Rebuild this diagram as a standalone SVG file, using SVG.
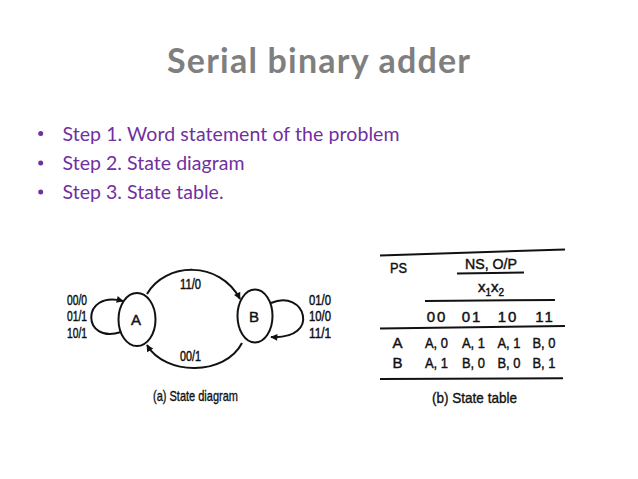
<svg xmlns="http://www.w3.org/2000/svg" width="638" height="479" viewBox="0 0 638 479">
<style>
.title{font-family:Lato,"Open Sans","Liberation Sans",sans-serif;font-weight:bold;font-size:34px;fill:#7f7f7f}
.bul{font-family:Lato,"Open Sans","Liberation Sans",sans-serif;font-size:19.5px;fill:#7030a0}
.dot{fill:#7030a0}
.lbl{font-family:"Liberation Sans",Arial,sans-serif;font-size:15px;fill:#111;stroke:#111;stroke-width:0.5}
.tb{font-family:"Liberation Sans",Arial,sans-serif;font-size:15px;fill:#111;stroke:#111;stroke-width:0.45}
.cap{font-family:"Liberation Sans",Arial,sans-serif;font-size:15px;fill:#111;stroke:#111;stroke-width:0.35}
.node{fill:#fff;stroke:#111;stroke-width:2}
.edge{fill:none;stroke:#111;stroke-width:2}
.rule{fill:none;stroke:#111;stroke-width:2}
</style>
<defs>
<marker id="ah" viewBox="0 0 10 10" refX="9" refY="5" markerWidth="8" markerHeight="7" markerUnits="userSpaceOnUse" orient="auto">
<path d="M0,0 L10,5 L0,10 Z" fill="#111"/>
</marker>
</defs>
<rect width="638" height="479" fill="#fff"/>
<text class="title" x="167" y="72.5" textLength="303">Serial binary adder</text>
<g id="bullets">
<circle class="dot" cx="40.7" cy="133.5" r="2.5"/>
<text class="bul" x="62.5" y="140.5" textLength="337">Step 1. Word statement of the problem</text>
<circle class="dot" cx="40.7" cy="163" r="2.5"/>
<text class="bul" x="62.5" y="170" textLength="182">Step 2. State diagram</text>
<circle class="dot" cx="40.7" cy="192" r="2.5"/>
<text class="bul" x="62.5" y="199" textLength="161">Step 3. State table.</text>
</g>
<g id="connectors">
<path class="edge" d="M147,294 C165,262 220,260 240,299" marker-end="url(#ah)"/>
<path class="edge" d="M242,343 C225,376 165,376 147,345" marker-end="url(#ah)"/>
<path class="edge" d="M121,332 C82,345 80,290 123,301" marker-end="url(#ah)"/>
<path class="edge" d="M271,303 C305,288 322,340 271,337" marker-end="url(#ah)"/>
</g>
<g id="nodeA">
<ellipse class="node" cx="137" cy="319.5" rx="18.5" ry="26.5"/>
<text class="tb" x="136" y="325" text-anchor="middle">A</text>
</g>
<g id="nodeB">
<ellipse class="node" cx="255" cy="316" rx="17.5" ry="26.5"/>
<text class="tb" x="254" y="321.5" text-anchor="middle">B</text>
</g>
<g id="edge-labels">
<text class="lbl" x="67" y="304.5" textLength="20" lengthAdjust="spacingAndGlyphs">00/0</text>
<text class="lbl" x="67" y="321" textLength="20" lengthAdjust="spacingAndGlyphs">01/1</text>
<text class="lbl" x="67" y="337.5" textLength="20" lengthAdjust="spacingAndGlyphs">10/1</text>
<text class="lbl" x="309" y="304.5" textLength="22" lengthAdjust="spacingAndGlyphs">01/0</text>
<text class="lbl" x="309" y="321" textLength="22" lengthAdjust="spacingAndGlyphs">10/0</text>
<text class="lbl" x="309" y="338" textLength="22" lengthAdjust="spacingAndGlyphs">11/1</text>
<text class="lbl" x="180" y="289" textLength="21" lengthAdjust="spacingAndGlyphs">11/0</text>
<text class="lbl" x="180" y="360.5" textLength="21" lengthAdjust="spacingAndGlyphs">00/1</text>
<text class="cap" x="153" y="400.5" textLength="85" lengthAdjust="spacingAndGlyphs">(a) State diagram</text>
</g>
<g id="state-table">
<path class="rule" d="M380,255.5 L565,249.5"/>
<text class="tb" x="390" y="273" textLength="17" lengthAdjust="spacingAndGlyphs">PS</text>
<text class="tb" x="465" y="269" textLength="52" lengthAdjust="spacingAndGlyphs">NS, O/P</text>
<path class="rule" d="M457,273.5 L524,272.5" stroke-width="1.8"/>
<text class="tb" x="478" y="292">x<tspan font-size="10" dy="4">1</tspan><tspan dy="-4">x</tspan><tspan font-size="10" dy="4">2</tspan></text>
<path class="rule" d="M425,301 L555,300"/>
<text class="tb" x="437" y="321.5" text-anchor="middle" letter-spacing="2">00</text>
<text class="tb" x="472" y="321.5" text-anchor="middle" letter-spacing="2">01</text>
<text class="tb" x="508" y="321.5" text-anchor="middle" letter-spacing="2">10</text>
<text class="tb" x="545" y="321.5" text-anchor="middle" letter-spacing="2">11</text>
<path class="rule" d="M380,328.5 L565,326"/>
<text class="tb" x="397.5" y="347.5" text-anchor="middle">A</text>
<text class="tb" x="436.5" y="347.5" text-anchor="middle" textLength="23" lengthAdjust="spacingAndGlyphs">A, 0</text>
<text class="tb" x="473.5" y="347.5" text-anchor="middle" textLength="23" lengthAdjust="spacingAndGlyphs">A, 1</text>
<text class="tb" x="509" y="347.5" text-anchor="middle" textLength="23" lengthAdjust="spacingAndGlyphs">A, 1</text>
<text class="tb" x="544" y="347.5" text-anchor="middle" textLength="23" lengthAdjust="spacingAndGlyphs">B, 0</text>
<text class="tb" x="397.5" y="367.5" text-anchor="middle">B</text>
<text class="tb" x="436.5" y="367.5" text-anchor="middle" textLength="23" lengthAdjust="spacingAndGlyphs">A, 1</text>
<text class="tb" x="473.5" y="367.5" text-anchor="middle" textLength="23" lengthAdjust="spacingAndGlyphs">B, 0</text>
<text class="tb" x="509" y="367.5" text-anchor="middle" textLength="23" lengthAdjust="spacingAndGlyphs">B, 0</text>
<text class="tb" x="544" y="367.5" text-anchor="middle" textLength="23" lengthAdjust="spacingAndGlyphs">B, 1</text>
<path class="rule" d="M380,379 L563,378.3"/>
<text class="cap" x="432" y="402.5" textLength="85" lengthAdjust="spacingAndGlyphs">(b) State table</text>
</g>
</svg>
